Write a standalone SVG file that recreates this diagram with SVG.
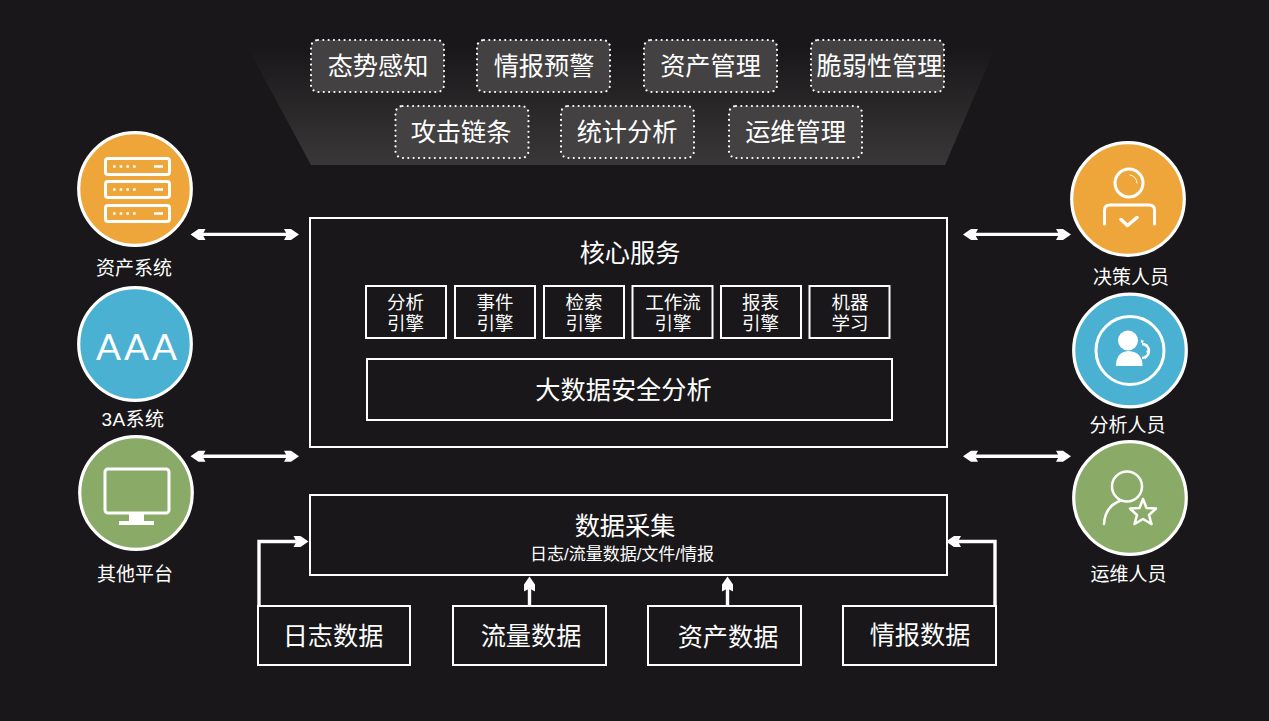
<svg xmlns="http://www.w3.org/2000/svg" width="1269" height="721" viewBox="0 0 1269 721">
<style>
text{font-family:"Liberation Sans","Noto Sans CJK SC",sans-serif;fill:#fff;text-anchor:middle}
.t26{font-size:25.200px}.t18{font-size:18.500px}.t19{font-size:19px}.t17{font-size:17px}
.box{fill:none;stroke:#fff;stroke-width:2}
.chip{fill:#434141;stroke:#fff;stroke-width:2.200;stroke-dasharray:0.010 5.300;stroke-linecap:round}
.ring{stroke:#fff;stroke-width:3.200}
.ic{fill:none;stroke:#fff;stroke-width:3;stroke-linecap:round;stroke-linejoin:round}
.con{fill:none;stroke:#fff;stroke-width:3.400}
</style>
<defs>
<linearGradient id="fade" x1="0" y1="0" x2="0" y2="1"><stop offset="0" stop-color="#191719"/><stop offset="1" stop-color="#393737"/></linearGradient>
<path id="ah" d="M0 0L-8 -5.500L-15 -5.500L-12 0L-15 5.500L-8 5.500Z" fill="#fff"/>
<g id="srv"><rect x="-32" y="-8" width="64" height="16" rx="2.500" fill="none" stroke="#fff" stroke-width="3"/><path d="M-24.500 0H-1.500" stroke="#fff" stroke-width="2.500" stroke-dasharray="2.500 4.200" fill="none"/><path d="M16.500 0H25.500" stroke="#fff" stroke-width="2.500" fill="none"/></g>
</defs>
<rect width="1269" height="721" fill="#191719"/>
<path id="fan" d="M248 48H995L945 165H311Z" fill="url(#fade)"/>
<g id="n-taishi"><rect class="chip" x="311" y="40" width="133" height="52" rx="7"/><text class="t26" x="378" y="75">态势感知</text></g>
<g id="n-qingbao"><rect class="chip" x="477" y="40" width="133" height="52" rx="7"/><text class="t26" x="544" y="75">情报预警</text></g>
<g id="n-zichan"><rect class="chip" x="644" y="40" width="133" height="52" rx="7"/><text class="t26" x="710.500" y="75">资产管理</text></g>
<g id="n-cuiruo"><rect class="chip" x="811" y="40" width="133" height="52" rx="7"/><text class="t26" x="879.500" y="75">脆弱性管理</text></g>
<g id="n-gongji"><rect class="chip" x="395.500" y="106" width="133" height="52" rx="7"/><text class="t26" x="461" y="141">攻击链条</text></g>
<g id="n-tongji"><rect class="chip" x="561" y="106" width="133" height="52" rx="7"/><text class="t26" x="627" y="141">统计分析</text></g>
<g id="n-yunwei"><rect class="chip" x="729" y="106" width="133" height="52" rx="7"/><text class="t26" x="795.500" y="141">运维管理</text></g>

<g id="n-core"><rect class="box" x="310" y="218" width="637" height="229"/><text class="t26" x="630" y="262">核心服务</text></g>
<g id="n-e1"><rect class="box" x="366" y="286" width="80" height="52"/><text class="t18" x="405.500" y="309">分析</text><text class="t18" x="405.500" y="330">引擎</text></g>
<g id="n-e2"><rect class="box" x="455" y="286" width="80" height="52"/><text class="t18" x="495" y="309">事件</text><text class="t18" x="495" y="330">引擎</text></g>
<g id="n-e3"><rect class="box" x="544" y="286" width="80" height="52"/><text class="t18" x="584" y="309">检索</text><text class="t18" x="584" y="330">引擎</text></g>
<g id="n-e4"><rect class="box" x="632.500" y="286" width="80" height="52"/><text class="t18" x="673" y="309">工作流</text><text class="t18" x="673" y="330">引擎</text></g>
<g id="n-e5"><rect class="box" x="721" y="286" width="80" height="52"/><text class="t18" x="760.500" y="309">报表</text><text class="t18" x="760.500" y="330">引擎</text></g>
<g id="n-e6"><rect class="box" x="809.500" y="286" width="80" height="52"/><text class="t18" x="850" y="309">机器</text><text class="t18" x="850" y="330">学习</text></g>
<g id="n-bigdata"><rect class="box" x="367" y="359" width="525" height="61"/><text class="t26" x="623.500" y="399">大数据安全分析</text></g>

<g id="n-collect"><rect class="box" x="310" y="495" width="637" height="80"/><text class="t26" x="625" y="535">数据采集</text><text class="t17" x="622" y="560">日志/流量数据/文件/情报</text></g>
<g id="n-log"><rect class="box" x="258" y="606" width="152" height="59"/><text class="t26" x="333" y="645">日志数据</text></g>
<g id="n-flow"><rect class="box" x="453" y="606" width="153" height="59"/><text class="t26" x="531" y="645">流量数据</text></g>
<g id="n-asset"><rect class="box" x="648" y="606" width="153" height="59"/><text class="t26" x="728" y="646">资产数据</text></g>
<g id="n-intel"><rect class="box" x="843" y="606" width="153" height="59"/><text class="t26" x="920" y="644">情报数据</text></g>

<g id="connectors">
<path class="con" d="M200 234.400H290M200 456.300H290M973 234.400H1062M973 456.300H1062"/>
<use href="#ah" transform="translate(299 234.400)"/><use href="#ah" transform="translate(190.500 234.400) rotate(180)"/>
<use href="#ah" transform="translate(299 456.300)"/><use href="#ah" transform="translate(190.500 456.300) rotate(180)"/>
<use href="#ah" transform="translate(1071 234.400)"/><use href="#ah" transform="translate(963 234.400) rotate(180)"/>
<use href="#ah" transform="translate(1071 456.300)"/><use href="#ah" transform="translate(963 456.300) rotate(180)"/>
<path class="con" d="M259 606V541.500H300"/><use href="#ah" transform="translate(308.500 541.500)"/>
<path class="con" d="M995 606V541.500H955"/><use href="#ah" transform="translate(946 541.500) rotate(180)"/>
<path class="con" d="M529.500 606V586"/><use href="#ah" transform="translate(529.500 576.500) rotate(-90)"/>
<path class="con" d="M727.500 606V586"/><use href="#ah" transform="translate(727.500 576.500) rotate(-90)"/>
</g>

<g id="n-assetsys"><circle class="ring" cx="135" cy="189" r="56.300" fill="#eea63a"/>
<use href="#srv" transform="translate(137.500 166.500)"/><use href="#srv" transform="translate(137.500 189.500)"/><use href="#srv" transform="translate(137.500 213.500)"/>
<text class="t19" x="134" y="275">资产系统</text></g>
<g id="n-aaa"><circle class="ring" cx="135" cy="344" r="56.300" fill="#4bb1d3"/><text x="138" y="360" style="font-family:Lato,'Liberation Sans',sans-serif;font-weight:400;font-size:37px;letter-spacing:3px">AAA</text><text class="t19" x="133" y="426" style="letter-spacing:.4px">3A系统</text></g>
<g id="n-other"><circle class="ring" cx="136" cy="493" r="56.300" fill="#8aab68"/>
<rect class="ic" x="105" y="469" width="64" height="44" rx="3"/><path d="M129 514H144V521H154V525H119V521H129Z" fill="#fff"/>
<text class="t19" x="135" y="581">其他平台</text></g>

<g id="n-decision"><circle class="ring" cx="1128" cy="199" r="56.300" fill="#eea63a"/>
<circle class="ic" cx="1129" cy="183" r="14"/><path class="ic" d="M1130 175a8 8 0 0 1 7 8" style="stroke-width:1"/><path class="ic" d="M1104.500 224V210Q1104.500 205 1110 205H1149Q1154.500 205 1154.500 210V224"/><path class="ic" d="M1121 219.500L1127.500 225.500L1137 217.500" style="stroke-width:3.500"/>
<text class="t19" x="1131" y="284">决策人员</text></g>
<g id="n-analyst"><circle class="ring" cx="1130" cy="350.500" r="56.300" fill="#4bb1d3"/><circle cx="1130" cy="350.500" r="34" fill="none" stroke="#fff" stroke-width="3"/>
<circle cx="1128" cy="340.500" r="10" fill="#fff"/><path d="M1116 366Q1116 352 1128.500 351Q1142.500 352 1142.500 366Z" fill="#fff"/>
<path d="M1142 344A7 7 0 0 1 1142 358" fill="none" stroke="#fff" stroke-width="2.500"/><path d="M1141 341A10 10 0 0 1 1141 360" fill="none" stroke="#fff" stroke-width="2.500" stroke-dasharray="2.500 3.600"/>
<text class="t19" x="1127.500" y="432">分析人员</text></g>
<g id="n-ops"><circle class="ring" cx="1130" cy="498" r="56.300" fill="#8aab68"/>
<circle class="ic" cx="1127" cy="486.500" r="15" style="stroke-width:2.500"/><path class="ic" d="M1104 524Q1105 506 1121 500.500" style="stroke-width:2.500"/><path class="ic" d="M1143 499L1146.500 508L1156 508.500L1149 515L1151.500 524L1143 519L1134.500 524L1137 515L1130 508.500L1139.500 508Z" style="stroke-width:2.500"/>
<text class="t19" x="1128.500" y="581">运维人员</text></g>
</svg>
